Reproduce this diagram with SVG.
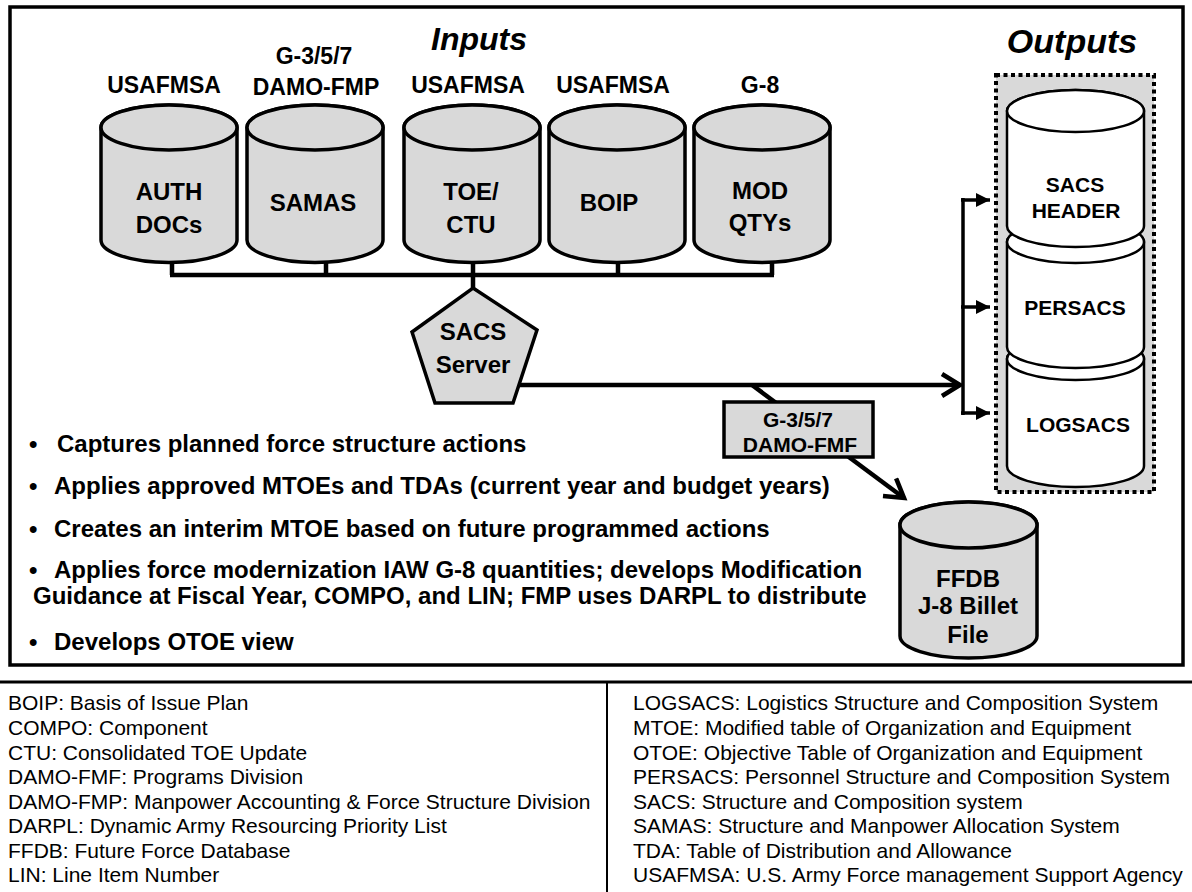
<svg xmlns="http://www.w3.org/2000/svg" width="1192" height="892" viewBox="0 0 1192 892">
<style>
.cyl{fill:#d9d9d9;stroke:#000;stroke-width:3.5}
.ocyl{fill:#fff;stroke:#000;stroke-width:2.5}
.b{font-family:"Liberation Sans",Arial,sans-serif;font-weight:bold;fill:#000}
.m{text-anchor:middle}
.conn{fill:none;stroke:#000;stroke-width:4.5}
.thin{fill:none;stroke:#000;stroke-width:3.5}
.leg{font-family:"Liberation Sans",Arial,sans-serif;font-size:21px;fill:#000}
.bul{font-size:24px}
</style>
<defs>
<marker id="open" markerUnits="userSpaceOnUse" markerWidth="26" markerHeight="28" refX="21" refY="13" orient="auto">
<path d="M3,2 L21,13 L3,24" fill="none" stroke="#000" stroke-width="4.5"/>
</marker>
<marker id="tri" markerUnits="userSpaceOnUse" markerWidth="16" markerHeight="16" refX="14" refY="8" orient="auto">
<path d="M0,1 L14,8 L0,15 Z" fill="#000"/>
</marker>
</defs>
<rect width="1192" height="892" fill="#fff"/>
<rect x="10" y="7" width="1173" height="658" fill="none" stroke="#000" stroke-width="3.5"/>
<text class="b m" x="479" y="50" font-size="32" font-style="italic">Inputs</text>
<text class="b m" x="1072" y="53" font-size="34" font-style="italic">Outputs</text>
<g id="sources" class="b m" font-size="23">
<text x="164" y="93">USAFMSA</text>
<text x="314" y="64">G-3/5/7</text>
<text x="316" y="95">DAMO-FMP</text>
<text x="468" y="93">USAFMSA</text>
<text x="613" y="93">USAFMSA</text>
<text x="760" y="93">G-8</text>
</g>
<g id="connectors">
<path class="conn" d="M172,262 V275 M326,262 V275 M473,262 V289 M618,262 V275 M772,262 V275 M170,275 H774"/>
<path class="conn" d="M519,385 H960" marker-end="url(#open)"/>
<path class="conn" d="M752,385 L904,498" marker-end="url(#open)"/>
<path class="thin" d="M963,198 V415"/>
<path class="thin" d="M961,200 H990" marker-end="url(#tri)"/>
<path class="thin" d="M961,307 H990" marker-end="url(#tri)"/>
<path class="thin" d="M961,413 H990" marker-end="url(#tri)"/>
</g>
<g id="auth-docs">
<path class="cyl" d="M101,127.5 V240 A68,22.5 0 0 0 237,240 V127.5 A68,22.5 0 0 0 101,127.5 Z"/>
<ellipse class="cyl" cx="169" cy="127.5" rx="68" ry="22.5"/>
<text class="b m" x="169" y="200" font-size="24">AUTH</text>
<text class="b m" x="169" y="233" font-size="24">DOCs</text>
</g>
<g id="samas">
<path class="cyl" d="M247,127.5 V240 A68,22.5 0 0 0 383,240 V127.5 A68,22.5 0 0 0 247,127.5 Z"/>
<ellipse class="cyl" cx="315" cy="127.5" rx="68" ry="22.5"/>
<text class="b m" x="313" y="211" font-size="24">SAMAS</text>
</g>
<g id="toe-ctu">
<path class="cyl" d="M404,127.5 V240 A68,22.5 0 0 0 540,240 V127.5 A68,22.5 0 0 0 404,127.5 Z"/>
<ellipse class="cyl" cx="472" cy="127.5" rx="68" ry="22.5"/>
<text class="b m" x="471" y="200" font-size="24">TOE/</text>
<text class="b m" x="471" y="233" font-size="24">CTU</text>
</g>
<g id="boip">
<path class="cyl" d="M549,127.5 V240 A68,22.5 0 0 0 685,240 V127.5 A68,22.5 0 0 0 549,127.5 Z"/>
<ellipse class="cyl" cx="617" cy="127.5" rx="68" ry="22.5"/>
<text class="b m" x="609" y="211" font-size="24">BOIP</text>
</g>
<g id="mod-qtys">
<path class="cyl" d="M694,127.5 V240 A68,22.5 0 0 0 830,240 V127.5 A68,22.5 0 0 0 694,127.5 Z"/>
<ellipse class="cyl" cx="762" cy="127.5" rx="68" ry="22.5"/>
<text class="b m" x="760" y="199" font-size="24">MOD</text>
<text class="b m" x="760" y="231" font-size="24">QTYs</text>
</g>
<g id="sacs-server">
<polygon class="cyl" points="473,288 537,330 513,403 435,403 412,332"/>
<text class="b m" x="473" y="340" font-size="24">SACS</text>
<text class="b m" x="473" y="373" font-size="24">Server</text>
</g>
<g id="damo-fmf">
<rect class="cyl" x="724" y="402" width="149" height="55" stroke-width="3"/>
<text class="b m" x="798" y="427" font-size="21">G-3/5/7</text>
<text class="b m" x="800" y="452" font-size="21">DAMO-FMF</text>
</g>
<g id="outputs">
<rect x="996" y="75" width="158" height="417" fill="#d9d9d9" stroke="#000" stroke-width="4" stroke-dasharray="4 3.5"/>
<g id="logsacs">
<path class="ocyl" d="M1007,359 V466 A68.5,21 0 0 0 1144,466 V359 A68.5,21 0 0 0 1007,359 Z"/>
<ellipse class="ocyl" cx="1075.5" cy="359" rx="68.5" ry="21"/>
<text class="b m" x="1078" y="432" font-size="21">LOGSACS</text>
</g>
<g id="persacs">
<path class="ocyl" d="M1007,242 V347 A68.5,21 0 0 0 1144,347 V242 A68.5,21 0 0 0 1007,242 Z"/>
<ellipse class="ocyl" cx="1075.5" cy="242" rx="68.5" ry="21"/>
<text class="b m" x="1075" y="315" font-size="21">PERSACS</text>
</g>
<g id="sacs-header">
<path class="ocyl" d="M1007,111 V226 A68.5,21 0 0 0 1144,226 V111 A68.5,21 0 0 0 1007,111 Z"/>
<ellipse class="ocyl" cx="1075.5" cy="111" rx="68.5" ry="21"/>
<text class="b m" x="1075" y="192" font-size="21">SACS</text>
<text class="b m" x="1076" y="218" font-size="21">HEADER</text>
</g>
</g>
<g id="ffdb">
<path class="cyl" d="M900,525 V636 A68.5,22 0 0 0 1037,636 V525 A68.5,23 0 0 0 900,525 Z"/>
<ellipse class="cyl" cx="968.5" cy="525" rx="68.5" ry="23"/>
<text class="b m" x="968" y="587" font-size="24">FFDB</text>
<text class="b m" x="968" y="614" font-size="24">J-8 Billet</text>
<text class="b m" x="968" y="643" font-size="24">File</text>
</g>
<g id="bullets" class="b bul">
<text x="29" y="452">•</text><text x="57" y="452">Captures planned force structure actions</text>
<text x="29" y="494">•</text><text x="54" y="494">Applies approved MTOEs and TDAs (current year and budget years)</text>
<text x="29" y="537">•</text><text x="54" y="537">Creates an interim MTOE based on future programmed actions</text>
<text x="29" y="578">•</text><text x="54" y="578">Applies force modernization IAW G-8 quantities; develops Modification</text>
<text x="33" y="604">Guidance at Fiscal Year, COMPO, and LIN; FMP uses DARPL to distribute</text>
<text x="29" y="650">•</text><text x="54" y="650">Develops OTOE view</text>
</g>
<g id="legend">
<line x1="0" y1="682" x2="1192" y2="682" stroke="#000" stroke-width="3"/>
<line x1="607" y1="682" x2="607" y2="892" stroke="#000" stroke-width="2"/>
<g class="leg">
<text x="8" y="710">BOIP: Basis of Issue Plan</text>
<text x="8" y="735">COMPO: Component</text>
<text x="8" y="760">CTU: Consolidated TOE Update</text>
<text x="8" y="784">DAMO-FMF: Programs Division</text>
<text x="8" y="809">DAMO-FMP: Manpower Accounting &amp; Force Structure Division</text>
<text x="8" y="833">DARPL: Dynamic Army Resourcing Priority List</text>
<text x="8" y="858">FFDB: Future Force Database</text>
<text x="8" y="882">LIN: Line Item Number</text>
<text x="633" y="710">LOGSACS: Logistics Structure and Composition System</text>
<text x="633" y="735">MTOE: Modified table of Organization and Equipment</text>
<text x="633" y="760">OTOE: Objective Table of Organization and Equipment</text>
<text x="633" y="784">PERSACS: Personnel Structure and Composition System</text>
<text x="633" y="809">SACS: Structure and Composition system</text>
<text x="633" y="833">SAMAS: Structure and Manpower Allocation System</text>
<text x="633" y="858">TDA: Table of Distribution and Allowance</text>
<text x="633" y="882">USAFMSA: U.S. Army Force management Support Agency</text>
</g>
</g>
</svg>
